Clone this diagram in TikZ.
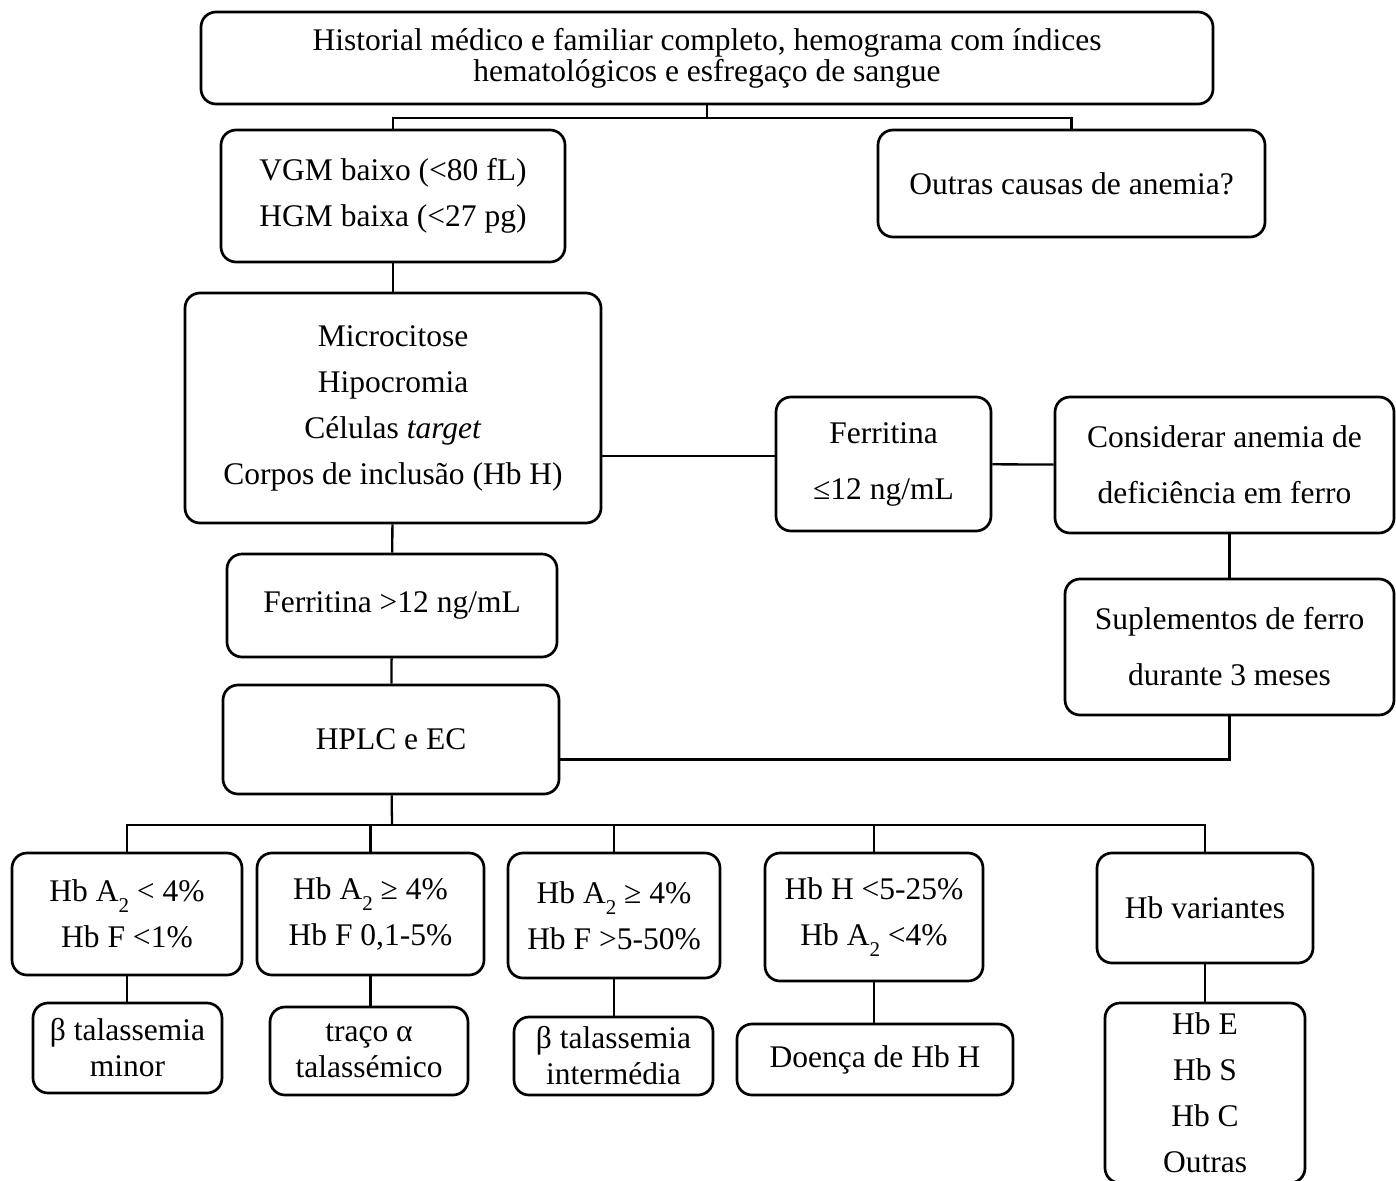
\documentclass[tikz,border=0pt]{standalone}
\usepackage{fontspec}
\setmainfont{Liberation Serif}
\usepackage{tikz}
\usetikzlibrary{positioning}

\newcommand{\subidx}[1]{\raisebox{-0.35em}{\fontsize{21}{21}\selectfont #1}}

\begin{document}
\begin{tikzpicture}[
  x=1pt, y=-1pt,
  box/.style={draw, line width=2.7pt, rounded corners=15pt, align=center, inner sep=0pt, font=\fontsize{31.5}{46}\selectfont},
  tight/.style={box, font=\fontsize{31.5}{31}\selectfont},
  wide/.style={box, font=\fontsize{31.5}{56}\selectfont},
  small/.style={box, font=\fontsize{31.5}{36}\selectfont},
  link/.style={line width=2.3pt}
]
\useasboundingbox (0,0) rectangle (1396,1180);

\node[tight, minimum width=1012pt, minimum height=92pt] (hist) at (707,58) {Historial médico e familiar completo, hemograma com índices\\hematológicos e esfregaço de sangue};
\node[box, minimum width=344pt, minimum height=132pt] (vgm) at (393,196) {VGM baixo (<80 fL)\\HGM baixa (<27 pg)};
\node[box, minimum width=387pt, minimum height=107pt] (other) at (1071.5,183.5) {Outras causas de anemia?};
\node[box, minimum width=416pt, minimum height=230pt] (micro) at (393,408) {Microcitose\\Hipocromia\\Células \textit{target}\\Corpos de inclusão (Hb H)};
\node[wide, minimum width=215pt, minimum height=134pt] (ferlo) at (883.5,464) {Ferritina\\≤12 ng/mL};
\node[wide, minimum width=339pt, minimum height=136pt] (iron) at (1224.5,465) {Considerar anemia de\\deficiência em ferro};
\node[wide, minimum width=329pt, minimum height=136pt] (supp) at (1229.5,647) {Suplementos de ferro\\durante 3 meses};
\node[box, minimum width=330pt, minimum height=103pt] (ferhi) at (392,605.5) {Ferritina >12 ng/mL};
\node[box, minimum width=336pt, minimum height=109pt] (hplc) at (391,739.5) {HPLC e EC};

\node[box, minimum width=230pt, minimum height=122pt] (r1) at (127,914) {Hb A\subidx{2} < 4\%\\Hb F <1\%};
\node[box, minimum width=227pt, minimum height=122pt] (r2) at (370.5,914) {Hb A\subidx{2} ≥ 4\%\\Hb F 0,1-5\%};
\node[box, minimum width=212pt, minimum height=125pt] (r3) at (614,915.5) {Hb A\subidx{2} ≥ 4\%\\Hb F >5-50\%};
\node[box, minimum width=218pt, minimum height=128pt] (r4) at (874,917) {Hb H <5-25\%\\Hb A\subidx{2} <4\%};
\node[box, minimum width=216pt, minimum height=110pt] (r5) at (1205,908) {Hb variantes};

\node[small, minimum width=189pt, minimum height=90pt] (d1) at (127.5,1048) {β talassemia\\minor};
\node[small, minimum width=198pt, minimum height=88pt] (d2) at (369,1051) {traço α\\talassémico};
\node[small, minimum width=199pt, minimum height=78pt] (d3) at (613.5,1056) {β talassemia\\intermédia};
\node[small, minimum width=276pt, minimum height=71pt] (d4) at (875,1059.5) {Doença de Hb H};
\node[box, minimum width=200pt, minimum height=180pt] (d5) at (1205,1093) {Hb E\\Hb S\\Hb C\\Outras};

\coordinate (bustop) at (707,118);
\coordinate (busbot) at (392,825);

\draw[link] (hist) -- (bustop) -| (vgm);
\draw[link] (bustop) -| (other);
\draw[link] (vgm) -- (micro);
\draw[link] ([yshift=-48pt]micro.east) -- ([yshift=8pt]ferlo.west);
\draw[link] (ferlo) -- (iron);
\draw[link] (supp.north) -- (supp.north |- iron.south);
\draw[link] (supp.south) |- ([yshift=-20pt]hplc.east);
\draw[link] (micro) -- (ferhi);
\draw[link] (ferhi) -- (hplc);
\draw[link] (hplc) -- (busbot);
\foreach \n in {1,...,5}
  \draw[link] (busbot) -| (r\n);
\foreach \n in {1,...,5}
  \draw[link] (r\n) -- (r\n |- d\n.north);
\end{tikzpicture}
\end{document}
